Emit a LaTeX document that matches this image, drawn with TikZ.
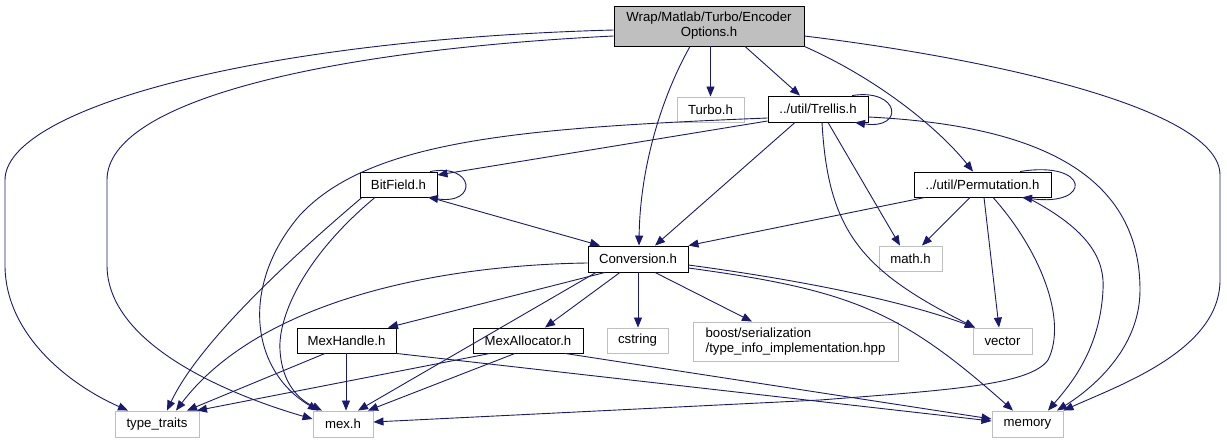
\documentclass[tikz,border=0pt]{standalone}
\usepackage{fontspec}
\setmainfont{Liberation Sans}
\usetikzlibrary{arrows.meta, calc}
\definecolor{cedge}{HTML}{191970}
\definecolor{cgrey}{HTML}{BFBFBF}
\tikzset{
  every picture/.style={font=\fontsize{13.2}{15}\selectfont, line width=0.9pt},
  file/.style={draw=black, fill=white, inner sep=0pt, minimum width=#1, minimum height=25pt},
  file/.default=80pt,
  sysfile/.style={file=#1, draw=cgrey},
  sysfile/.default=60pt,
  dep/.style={-{Triangle[length=10pt, width=8pt]}, draw=cedge},
}

\begin{document}
\begin{tikzpicture}[x=1pt, y=-1pt]
  \useasboundingbox (0,0) rectangle (1227,443);
  % files
  \node[file=190pt, minimum height=40pt, fill=cgrey, align=center] (root) at (709,26) {Wrap/Matlab/Turbo/Encoder\\Options.h};
  \node[sysfile=67pt] (turbo) at (710.5,109.5) {Turbo.h};
  \node[file=100pt, minimum height=26pt] (trellis) at (818,109) {../util/Trellis.h};
  \node[file=77pt] (bitfield) at (398.5,184.5) {BitField.h};
  \node[file=137pt] (perm) at (982.5,184.5) {../util/Permutation.h};
  \node[sysfile=63pt] (mathh) at (910.5,258.5) {math.h};
  \node[file=100pt, minimum height=26pt] (conv) at (638,259) {Conversion.h};
  \node[file=99pt] (mexhandle) at (346.5,340.5) {MexHandle.h};
  \node[file=110pt] (mexalloc) at (528,340.5) {MexAllocator.h};
  \node[sysfile=61pt] (cstring) at (637.5,340.5) {cstring};
  \node[sysfile=205pt, minimum height=39pt, align=left] (boost) at (795.5,341.5) {boost/serialization\\/type\_info\_implementation.hpp};
  \node[sysfile=59pt, minimum height=26pt] (vector) at (1002.5,341) {vector};
  \node[sysfile=84pt, minimum height=26pt] (ttraits) at (157,424) {type\_traits};
  \node[sysfile=60pt, minimum height=26pt] (mexh) at (343,424) {mex.h};
  \node[sysfile=71pt, minimum height=26pt] (memory) at (1027.5,424) {memory};
  % straight includes, bottom of one file to top of the next
  \foreach \s/\sx/\t/\tx in {root/710.5/turbo/710.5, root/745/trellis/800,
      trellis/795/conv/655, trellis/828/mathh/900, bitfield/430/conv/600,
      perm/970/mathh/922, perm/984/vector/999, conv/605/mexhandle/388,
      conv/620/mexalloc/545, conv/638/cstring/638, conv/655/boost/752,
      conv/596/mexh/358, mexhandle/325/ttraits/187, mexhandle/346/mexh/346,
      mexalloc/490/ttraits/197, mexalloc/515/mexh/368}
    \draw[dep] (\sx,0 |- \s.south) -- (\tx,0 |- \t.north);
  \draw[dep] (trellis.west |- 0,121) -- (bitfield.east |- 0,175);
  \draw[dep] (925,0 |- perm.south) -- (conv.north east);
  \draw[dep] (mexhandle.south east) -- (memory.west |- 0,421);
  \draw[dep] (565,0 |- mexalloc.south) -- (memory.west |- 0,419);
  % root
  \draw[dep] (root.west |- 0,30) .. controls (250,40) and (5,110) .. (5,180) -- (5,265) .. controls (5,335) and (70,385) .. (128,0 |- ttraits.north);
  \draw[dep] (root.west |- 0,36) .. controls (330,50) and (107,100) .. (107,180) -- (107,265) .. controls (107,345) and (230,395) .. (mexh.west |- 0,419);
  \draw[dep] (root.east |- 0,36) .. controls (1000,60) and (1220,110) .. (1220,175) -- (1220,280) .. controls (1220,350) and (1120,385) .. (memory.north east);
  \draw[dep] (root.south east) .. controls (880,80) and (940,130) .. (973,0 |- perm.north);
  \draw[dep] (690,0 |- root.south) .. controls (660,100) and (640,170) .. (639,0 |- conv.north);
  % self includes
  \draw[dep] (852,0 |- trellis.north) .. controls (900,88) and (905,130) .. (855,0 |- trellis.south);
  \draw[dep] (430,0 |- bitfield.north) .. controls (475,163) and (478,205) .. (428,0 |- bitfield.south);
  \draw[dep] (1020,0 |- perm.north) .. controls (1090,160) and (1093,207) .. (1022,0 |- perm.south);
  % Trellis.h
  \draw[dep] (trellis.west |- 0,118) .. controls (520,128) and (370,140) .. (300,215) .. controls (240,285) and (250,370) .. (318,0 |- mexh.north);
  \draw[dep] (822,0 |- trellis.south) .. controls (828,230) and (860,270) .. (975,0 |- vector.north);
  \draw[dep] (trellis.east |- 0,117) .. controls (1030,125) and (1140,170) .. (1140,290) .. controls (1140,350) and (1090,390) .. (1057,0 |- memory.north);
  % BitField.h
  \draw[dep] (362,0 |- bitfield.south) .. controls (300,250) and (200,340) .. (167,0 |- ttraits.north);
  \draw[dep] (375,0 |- bitfield.south) .. controls (300,260) and (278,320) .. (280,350) .. controls (282,385) and (300,400) .. (322,0 |- mexh.north);
  % Permutation.h
  \draw[dep] (993,0 |- perm.south) .. controls (1040,250) and (1068,320) .. (1048,360) .. controls (1030,385) and (950,390) .. (820,400) -- (mexh.east |- 0,422);
  \draw[dep] (1027,0 |- perm.south) .. controls (1090,230) and (1105,260) .. (1103,290) .. controls (1100,350) and (1070,385) .. (1048,0 |- memory.north);
  % Conversion.h
  \draw[dep] (conv.west |- 0,263) .. controls (440,265) and (260,300) .. (176,0 |- ttraits.north);
  \draw[dep] (conv.east |- 0,265) .. controls (800,280) and (900,300) .. (975,0 |- vector.north);
  \draw[dep] (conv.east |- 0,268) .. controls (850,290) and (900,310) .. (1013,0 |- memory.north);
\end{tikzpicture}
\end{document}
